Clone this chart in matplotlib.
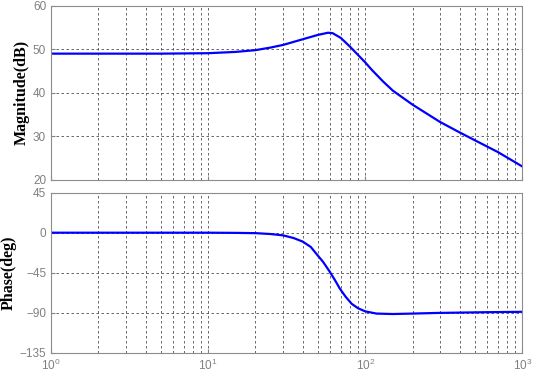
import matplotlib
matplotlib.use('Agg')
import matplotlib.pyplot as plt
import numpy as np

plt.rcParams['font.family'] = ['Liberation Sans', 'DejaVu Sans']

# %% DATA
mag_freq = [1, 5, 10, 15, 20, 25, 30, 40, 50, 58, 62, 70, 80, 90, 100, 110,
            130, 150, 200, 300, 400, 500, 700, 1000]
mag_db = [49.0, 49.0, 49.1, 49.4, 49.8, 50.4, 51.0, 52.3, 53.3, 53.8, 53.7,
          52.6, 50.6, 48.7, 47.0, 45.3, 42.6, 40.5, 37.3, 33.3, 30.9, 29.1,
          26.4, 23.1]

ph_freq = [1, 10, 15, 20, 25, 30, 35, 40, 45, 49, 54, 59, 64, 69, 75, 82,
           90, 100, 118, 150, 200, 285, 566, 1000]
ph_deg = [0, 0, -0.2, -0.5, -1.5, -3, -6, -10, -16, -24, -33, -43, -53, -63,
          -72, -80, -85, -88.5, -91, -91.5, -91, -90.3, -89.5, -89]

mag_ticks = [20, 30, 40, 50, 60]
ph_ticks = [-135, -90, -45, 0, 45]

# %% PLOT
fig = plt.figure(figsize=(5.6, 3.76), dpi=100)
ax1 = fig.add_axes([0.0911, 0.5213, 0.8416, 0.4635])
ax2 = fig.add_axes([0.0911, 0.062, 0.8416, 0.4255])

grid_kw = dict(color='0.3', linestyle=(0, (3, 3)), linewidth=0.6)
for ax in (ax1, ax2):
    ax.set_xscale('log')
    ax.set_xlim(1, 1000)
    ax.grid(True, which='major', axis='both', **grid_kw)
    ax.grid(True, which='minor', axis='x', **grid_kw)
    ax.tick_params(which='both', direction='in', colors='0.5',
                   labelsize=8.5, length=3)
    ax.tick_params(which='minor', length=0)
    for s in ax.spines.values():
        s.set_color('0.55')
        s.set_linewidth(0.8)

ax1.plot(mag_freq, mag_db, color='#0000ff', lw=1.6)
ax1.set_ylim(20, 60)
ax1.set_yticks(mag_ticks)
ax1.tick_params(labelbottom=False)
ax1.set_ylabel('Magnitude(dB)', family='Liberation Serif', weight='bold',
               fontsize=11.5, color='black', labelpad=2)

ax2.plot(ph_freq, ph_deg, color='#0000ff', lw=1.6)
ax2.set_ylim(-135, 45)
ax2.set_yticks(ph_ticks)
ax2.set_ylabel('Phase(deg)', family='Liberation Serif', weight='bold',
               fontsize=11.5, color='black', labelpad=2)
ax2.set_xlabel('Frequency(Hz)', family='Liberation Serif', weight='bold',
               fontsize=11.5, color='black', labelpad=8)

fig.savefig('out.png', dpi=100)
